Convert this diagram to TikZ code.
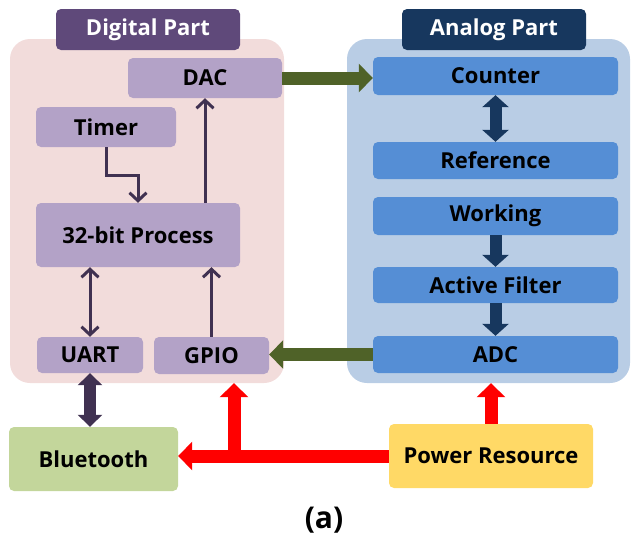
\documentclass[tikz,border=0pt]{standalone}
\usepackage{fontspec}
\setmainfont{Open Sans}
\usetikzlibrary{arrows.meta}

\definecolor{digback}{HTML}{F2DCDB}
\definecolor{digbox}{HTML}{B3A2C7}
\definecolor{dighead}{HTML}{5F497A}
\definecolor{anaback}{HTML}{B9CDE5}
\definecolor{anabox}{HTML}{558ED5}
\definecolor{anahead}{HTML}{17375E}
\definecolor{darkpurple}{HTML}{403151}
\definecolor{olive}{HTML}{4F6228}
\definecolor{btgreen}{HTML}{C3D69B}
\definecolor{pwryellow}{HTML}{FFD966}

\tikzset{
  box/.style={rounded corners=5pt, inner sep=0pt,
    font=\bfseries\fontsize{22}{26}\selectfont},
  dbox/.style={box, fill=digbox},
  abox/.style={box, fill=anabox, minimum width=245pt},
  head/.style={box, text=white, minimum width=184pt, minimum height=41pt},
  back/.style={rounded corners=20pt, inner sep=0pt},
  pline/.style={line width=3pt, darkpurple, -{Straight Barb[length=8pt,width=17pt]}},
  fat/.style={-{Triangle[length=14pt,width=28pt]}, line width=13pt},
}

\begin{document}
\begin{tikzpicture}[x=1pt, y=-1pt]
  \useasboundingbox (0,0) rectangle (632,539);
  % the two parts
  \node[back, fill=digback, minimum width=274pt, minimum height=344pt] (digi) at (147,211) {};
  \node[back, fill=anaback, minimum width=283pt, minimum height=344pt] (ana) at (488.5,211) {};
  \node[head, fill=dighead] (dhead) at (148,29.5) {Digital Part};
  \node[head, fill=anahead] (ahead) at (494,29.5) {Analog Part};

  \node[dbox, minimum width=154pt, minimum height=40pt] (dac) at (205,78) {DAC};
  \node[dbox, minimum width=140pt, minimum height=40pt] (timer) at (106,127) {Timer};
  \node[dbox, minimum width=204pt, minimum height=64pt] (proc) at (138,235) {32-bit Process};
  \node[dbox, minimum width=106pt, minimum height=36pt] (uart) at (90,355) {UART};
  \node[dbox, minimum width=115pt, minimum height=37pt] (gpio) at (211.5,355.5) {GPIO};

  \node[abox, minimum height=38pt] (count) at (495.5,76) {Counter};
  \node[abox, minimum height=37pt] (ref) at (495.5,160.5) {Reference};
  \node[abox, minimum height=38pt] (work) at (495.5,216) {Working};
  \node[abox, minimum height=36pt] (filt) at (495.5,285) {Active Filter};
  \node[abox, minimum height=37pt] (adc) at (495.5,354.5) {ADC};

  \node[box, fill=btgreen, minimum width=169pt, minimum height=64pt] (bt) at (93.5,459) {Bluetooth};
  \node[box, fill=pwryellow, minimum width=204pt, minimum height=64pt] (pwr) at (491,456) {Power Resource};

  \node[font=\bfseries\fontsize{30}{34}\selectfont] (cap) at (324,520) {(a)};

  % thin links in the digital part
  \draw[pline] (timer.south) -- ++(0,28) -| (proc.north);
  \draw[pline] (proc.north -| dac.south) -- (dac.south);
  \draw[pline, {Straight Barb[length=8pt,width=17pt]}-{Straight Barb[length=8pt,width=17pt]}]
    (uart.north |- proc.south) -- (uart.north);
  \draw[pline] (gpio.north) -- (gpio.north |- proc.south);

  % block arrows
  \draw[fat, olive] (dac.east) -- (dac.east -| count.west);
  \draw[fat, olive] (adc.west) -- (adc.west -| gpio.east);
  \draw[anahead, line width=12pt, {Triangle[length=12pt,width=26pt]}-{Triangle[length=12pt,width=26pt]}]
    (count.south) -- (ref.north);
  \draw[anahead, line width=12pt, -{Triangle[length=12pt,width=26pt]}] (work.south) -- (filt.north);
  \draw[anahead, line width=12pt, -{Triangle[length=12pt,width=26pt]}] (filt.south) -- (adc.north);
  \draw[darkpurple, line width=12pt, {Triangle[length=12pt,width=24pt]}-{Triangle[length=12pt,width=24pt]}]
    (uart.south) -- (uart.south |- bt.north);

  % power lines
  \coordinate (jn) at (234,456);
  \draw[fat, red] (pwr.west) -- (pwr.west -| bt.east);
  \draw[fat, red] (jn) -- (jn |- digi.south);
  \draw[fat, red] (pwr.north) -- (pwr.north |- ana.south);
\end{tikzpicture}
\end{document}
